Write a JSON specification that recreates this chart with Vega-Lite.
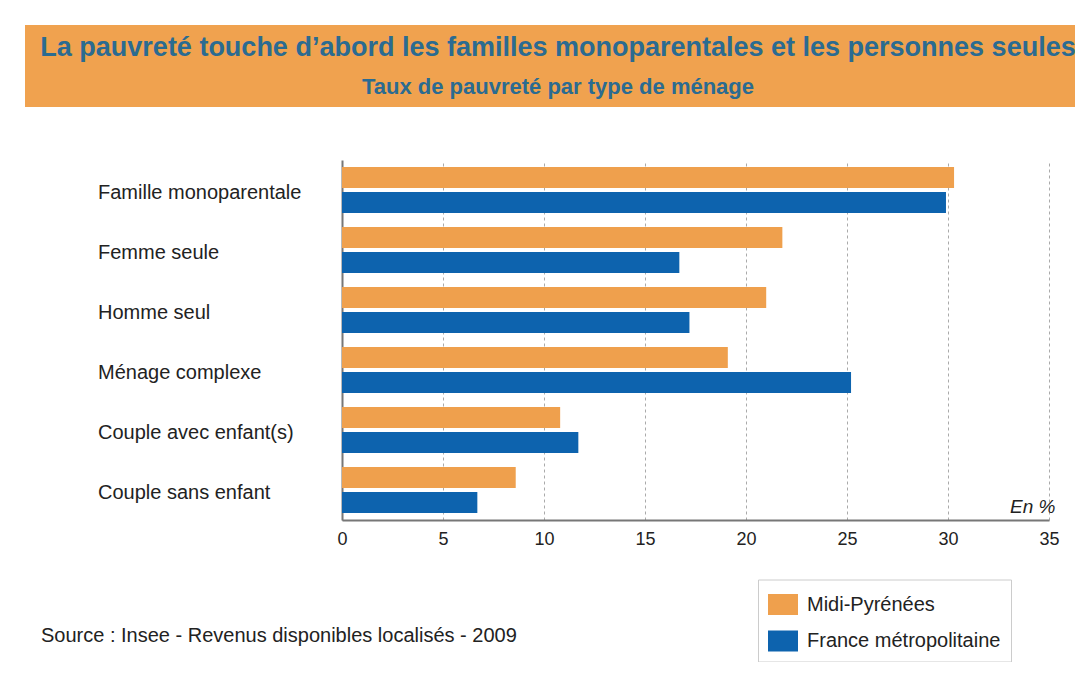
{
  "$schema": "https://vega.github.io/schema/vega-lite/v6.json",
  "background": "white",
  "padding": {"left": 25, "top": 25, "right": 0, "bottom": 0},
  "config": {"font": "Liberation Sans", "view": {"stroke": null}},
  "title": {
    "text": "Source : Insee - Revenus disponibles localisés - 2009",
    "orient": "bottom",
    "anchor": "start",
    "frame": "group",
    "dx": 16,
    "offset": -36,
    "fontSize": 20,
    "fontWeight": "normal",
    "color": "#222222"
  },
  "spacing": 53,
  "resolve": {"scale": {"color": "independent"}, "legend": {"color": "independent"}},
  "vconcat": [
    {
      "width": 1050,
      "height": 82,
      "view": {"fill": "#F0A24F", "stroke": null},
      "data": {"values": [
        {"texte": "La pauvreté touche d’abord les familles monoparentales et les personnes seules", "niveau": "titre"},
        {"texte": "Taux de pauvreté par type de ménage", "niveau": "sous-titre"}
      ]},
      "layer": [
        {
          "transform": [{"filter": "datum.niveau === 'titre'"}],
          "mark": {"type": "text", "fontSize": 27, "fontWeight": "bold", "color": "#2B6B91", "dy": -18, "dx": 8},
          "encoding": {"text": {"field": "texte"}}
        },
        {
          "transform": [{"filter": "datum.niveau === 'sous-titre'"}],
          "mark": {"type": "text", "fontSize": 22, "fontWeight": "bold", "color": "#2B6B91", "dy": 21, "dx": 8},
          "encoding": {"text": {"field": "texte"}}
        }
      ]
    },
    {
      "data": {"values": [
        {"type": "Famille monoparentale", "zone": "Midi-Pyrénées", "taux": 30.3},
        {"type": "Famille monoparentale", "zone": "France métropolitaine", "taux": 29.9},
        {"type": "Femme seule", "zone": "Midi-Pyrénées", "taux": 21.8},
        {"type": "Femme seule", "zone": "France métropolitaine", "taux": 16.7},
        {"type": "Homme seul", "zone": "Midi-Pyrénées", "taux": 21.0},
        {"type": "Homme seul", "zone": "France métropolitaine", "taux": 17.2},
        {"type": "Ménage complexe", "zone": "Midi-Pyrénées", "taux": 19.1},
        {"type": "Ménage complexe", "zone": "France métropolitaine", "taux": 25.2},
        {"type": "Couple avec enfant(s)", "zone": "Midi-Pyrénées", "taux": 10.8},
        {"type": "Couple avec enfant(s)", "zone": "France métropolitaine", "taux": 11.7},
        {"type": "Couple sans enfant", "zone": "Midi-Pyrénées", "taux": 8.6},
        {"type": "Couple sans enfant", "zone": "France métropolitaine", "taux": 6.7}
      ]},
      "spacing": 11,
      "resolve": {"scale": {"y": "shared", "color": "independent"}, "legend": {"color": "independent"}},
      "hconcat": [
        {
          "width": 300,
          "height": 360,
          "transform": [{"filter": "datum.zone === 'Midi-Pyrénées'"}],
          "mark": {"type": "text", "align": "left", "baseline": "middle", "dx": -77, "dy": 3, "fontSize": 20, "color": "#222222"},
          "encoding": {
            "y": {
              "field": "type",
              "type": "nominal",
              "sort": ["Famille monoparentale", "Femme seule", "Homme seul", "Ménage complexe", "Couple avec enfant(s)", "Couple sans enfant"],
              "scale": {"paddingInner": 0.233, "paddingOuter": 0.117},
              "axis": null
            },
            "text": {"field": "type"}
          }
        },
        {
          "width": 707,
          "height": 360,
          "mark": {"type": "bar"},
          "encoding": {
            "y": {
              "field": "type",
              "type": "nominal",
              "sort": ["Famille monoparentale", "Femme seule", "Homme seul", "Ménage complexe", "Couple avec enfant(s)", "Couple sans enfant"],
              "scale": {"paddingInner": 0.233, "paddingOuter": 0.117},
              "axis": {
                "title": null,
                "ticks": false,
                "labels": false,
                "domainColor": "#777777",
                "domainWidth": 2
              }
            },
            "yOffset": {
              "field": "zone",
              "type": "nominal",
              "scale": {"domain": ["Midi-Pyrénées", "France métropolitaine"], "paddingInner": 0.16, "paddingOuter": 0}
            },
            "x": {
              "field": "taux",
              "type": "quantitative",
              "scale": {"domain": [0, 35], "nice": false},
              "axis": {
                "values": [0, 5, 10, 15, 20, 25, 30, 35],
                "grid": true,
                "gridDash": [3, 3],
                "gridColor": "#aaaaaa",
                "gridWidth": 1,
                "ticks": false,
                "domainColor": "#777777",
                "domainWidth": 2,
                "labelFontSize": 18,
                "labelColor": "#222222",
                "labelPadding": 10,
                "labelFlush": false,
                "title": "En %",
                "titleX": 713,
                "titleY": -8,
                "titleAlign": "right",
                "titleBaseline": "alphabetic",
                "titleFontSize": 19,
                "titleFontStyle": "italic",
                "titleFontWeight": "normal",
                "titleColor": "#222222"
              }
            },
            "color": {
              "field": "zone",
              "type": "nominal",
              "scale": {"domain": ["Midi-Pyrénées", "France métropolitaine"], "range": ["#EFA04D", "#0D63AE"]},
              "legend": {
                "title": null,
                "orient": "none",
                "legendX": 416,
                "legendY": 419.5,
                "direction": "vertical",
                "symbolType": "M-1,-0.7H1V0.7H-1Z",
                "symbolSize": 900,
                "symbolStrokeWidth": 0,
                "symbolOpacity": 1,
                "labelFontSize": 20,
                "labelColor": "#222222",
                "labelOffset": 9,
                "labelLimit": 400,
                "rowPadding": 10.5,
                "padding": 10,
                "strokeColor": "#cccccc",
                "fillColor": "#ffffff"
              }
            }
          }
        }
      ]
    }
  ]
}
